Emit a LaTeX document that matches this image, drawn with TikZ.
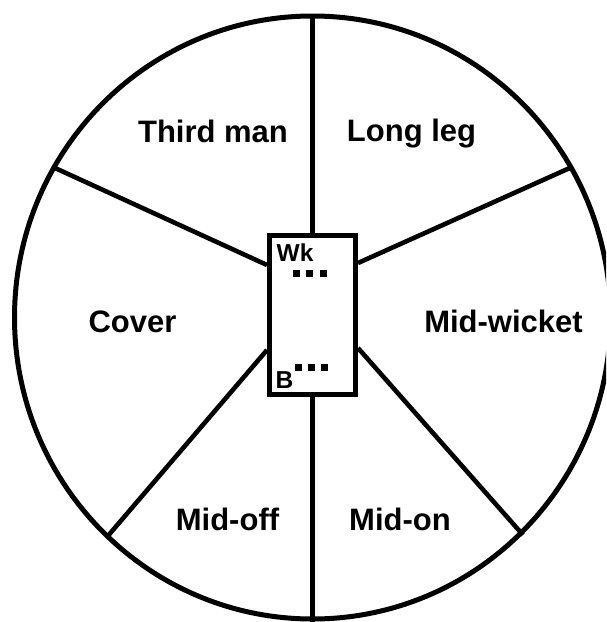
\documentclass[tikz,border=0pt]{standalone}
\usepackage{fontspec}
\setmainfont{Liberation Sans}
\begin{document}
\begin{tikzpicture}[x=1pt,y=-1pt,
  lbl/.style={font=\fontsize{31}{36}\selectfont\bfseries, inner sep=0pt, anchor=base},
  small/.style={font=\fontsize{24.5}{29}\selectfont\bfseries, inner sep=0pt, anchor=base west},
  ray/.style={line width=4.6pt},
  dot/.style={fill=black, minimum size=7pt, inner sep=0pt},
]
\useasboundingbox (0,0) rectangle (606,622);
\clip (0,0) rectangle (606,622);
\fill[white] (0,0) rectangle (606,622);
% boundary
\draw[line width=5pt] (312.5,317.5) ellipse [x radius=298pt, y radius=301.5pt];
% pitch
\node[draw, line width=5pt, minimum width=86pt, minimum height=159pt, inner sep=0pt] (pitch) at (312.5,315) {};
% boundary points
\coordinate (ctop) at (312.5,14);
\coordinate (cbot) at (312.5,624);
\coordinate (cul) at (55,168);
\coordinate (cur) at (572,167);
\coordinate (cll) at (107,537);
\coordinate (clr) at (523,535);
\draw[ray] (pitch.north) -- (ctop);
\draw[ray] (pitch.south) -- (cbot);
\draw[ray] ([yshift=50pt]pitch.west) -- (cul);
\draw[ray] ([yshift=52pt]pitch.east) -- (cur);
\draw[ray] ([yshift=-35pt]pitch.west) -- (cll);
\draw[ray] ([yshift=-33pt]pitch.east) -- (clr);
% labels
\node[lbl] (third) at (213,142) {Third man};
\node[lbl] (long) at (411.5,141) {Long leg};
\node[lbl] (cover) at (132.5,332) {Cover};
\node[lbl] (mw) at (503.5,332) {Mid-wicket};
\node[lbl] (moff) at (227.5,530) {Mid-off};
\node[lbl] (mon) at (400,530) {Mid-on};
\node[small] (wk) at (276.5,261.5) {Wk};
\node[small] (b) at (275.5,388.5) {B};
% stumps
\node[dot] (w1) at (296,273.5) {};
\node[dot] (w2) at (309.5,273.5) {};
\node[dot] (w3) at (323,273.5) {};
\node[dot] (b1) at (298.5,367) {};
\node[dot] (b2) at (311,367) {};
\node[dot] (b3) at (324,367) {};
\end{tikzpicture}
\end{document}
